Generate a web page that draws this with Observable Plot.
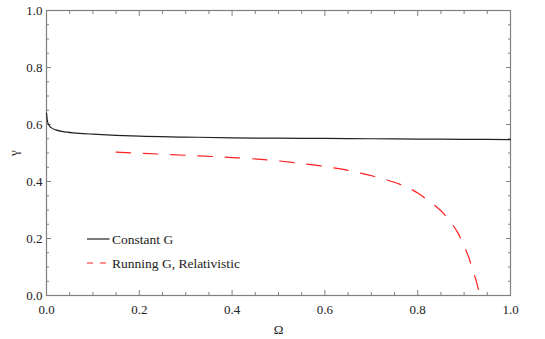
<!DOCTYPE html>
<html>
<head>
<meta charset="utf-8">
<script src="https://cdn.jsdelivr.net/npm/d3@7"></script>
<script src="https://cdn.jsdelivr.net/npm/@observablehq/plot@0.6"></script>
<style>
  html, body { margin: 0; padding: 0; background: #fff; }
  #wrap { position: relative; width: 545px; height: 339px; }
  #legend { position: absolute; left: 0; top: 0; pointer-events: none; }
</style>
</head>
<body>
<div id="wrap"></div>
<script>
// Constant G curve
const constOmega = [0, 0.002, 0.005, 0.01, 0.02, 0.04, 0.07, 0.1, 0.15, 0.2, 0.3, 0.4, 0.5, 0.6, 0.7, 0.8, 0.9, 1.0];
const constGamma = [0.64, 0.612, 0.598, 0.589, 0.581, 0.574, 0.569, 0.566, 0.562, 0.559, 0.556, 0.553, 0.552, 0.551, 0.550, 0.549, 0.548, 0.547];

// Running G, Relativistic curve
const runOmega = [0.15, 0.3, 0.4, 0.483, 0.55, 0.63, 0.691, 0.72, 0.746, 0.775, 0.801, 0.826, 0.849, 0.869, 0.885, 0.899, 0.91, 0.919, 0.928, 0.934];
const runGamma = [0.503, 0.492, 0.484, 0.475, 0.463, 0.445, 0.424, 0.412, 0.399, 0.381, 0.359, 0.329, 0.299, 0.262, 0.224, 0.178, 0.134, 0.088, 0.040, 0];

const seriesNames = ["Constant G", "Running G, Relativistic"];

// ticks
const xMajor = [0, 0.2, 0.4, 0.6, 0.8, 1.0];
const yMajor = [0, 0.2, 0.4, 0.6, 0.8, 1.0];
const minorTicks = [0.05, 0.1, 0.15, 0.25, 0.3, 0.35, 0.45, 0.5, 0.55, 0.65, 0.7, 0.75, 0.85, 0.9, 0.95];

const constData = constOmega.map((x, i) => ({x, y: constGamma[i]}));
const runData = runOmega.map((x, i) => ({x, y: runGamma[i]}));

const fmt = d3.format(".1f");
const axisColor = "#808080";
const font = "Liberation Serif";

const plot = Plot.plot({
  width: 545,
  height: 339,
  marginLeft: 46,
  marginRight: 35,
  marginTop: 10,
  marginBottom: 44,
  style: { fontFamily: font, fontSize: "13px", color: "#222", background: "#fff" },
  x: { domain: [0, 1] },
  y: { domain: [0, 1] },
  marks: [
    Plot.axisX({ anchor: "bottom", ticks: xMajor, tickSize: 0, tickPadding: 9, tickFormat: fmt,
      label: "Ω", labelAnchor: "center", labelOffset: 38, labelArrow: false, fill: "#222" }),
    Plot.axisY({ anchor: "left", ticks: yMajor, tickSize: 0, tickPadding: 4, tickFormat: fmt,
      label: "γ", labelAnchor: "center", labelOffset: 38, labelArrow: false, fill: "#222" }),
    Plot.axisX({ anchor: "bottom", ticks: xMajor, tickSize: -5, text: null, label: null, stroke: axisColor }),
    Plot.axisX({ anchor: "bottom", ticks: minorTicks, tickSize: -3, text: null, label: null, stroke: axisColor }),
    Plot.axisX({ anchor: "top", ticks: xMajor, tickSize: -5, text: null, label: null, stroke: axisColor }),
    Plot.axisX({ anchor: "top", ticks: minorTicks, tickSize: -3, text: null, label: null, stroke: axisColor }),
    Plot.axisY({ anchor: "left", ticks: yMajor, tickSize: -5, text: null, label: null, stroke: axisColor }),
    Plot.axisY({ anchor: "left", ticks: minorTicks, tickSize: -3, text: null, label: null, stroke: axisColor }),
    Plot.axisY({ anchor: "right", ticks: yMajor, tickSize: -5, text: null, label: null, stroke: axisColor }),
    Plot.axisY({ anchor: "right", ticks: minorTicks, tickSize: -3, text: null, label: null, stroke: axisColor }),
    Plot.frame({ stroke: axisColor, strokeWidth: 1.2 }),
    Plot.line(constData, { x: "x", y: "y", stroke: "#222", strokeWidth: 1.2, curve: "monotone-x" }),
    Plot.line(runData, { x: "x", y: "y", stroke: "#ff2020", strokeWidth: 1.2, strokeDasharray: "14.5,12.8", curve: "monotone-x" })
  ]
});

// make sure every text uses the serif face
plot.setAttribute("font-family", font);
plot.querySelectorAll("text").forEach(t => t.setAttribute("font-family", font));

const wrap = document.getElementById("wrap");
wrap.appendChild(plot);

// legend overlay
const ns = "http://www.w3.org/2000/svg";
const leg = document.createElementNS(ns, "svg");
leg.setAttribute("id", "legend");
leg.setAttribute("width", 545);
leg.setAttribute("height", 339);
const items = [
  { name: seriesNames[0], stroke: "#222", dash: null, y: 239 },
  { name: seriesNames[1], stroke: "#ff2020", dash: "6,7", y: 263 }
];
for (const it of items) {
  const l = document.createElementNS(ns, "line");
  l.setAttribute("x1", 87); l.setAttribute("x2", 109.5);
  l.setAttribute("y1", it.y); l.setAttribute("y2", it.y);
  l.setAttribute("stroke", it.stroke); l.setAttribute("stroke-width", 1.2);
  if (it.dash) l.setAttribute("stroke-dasharray", it.dash);
  leg.appendChild(l);
  const t = document.createElementNS(ns, "text");
  t.setAttribute("x", 112); t.setAttribute("y", it.y);
  t.setAttribute("dy", "0.35em");
  t.setAttribute("font-family", font);
  t.setAttribute("font-size", "13.5px");
  t.setAttribute("fill", "#222");
  t.textContent = it.name;
  leg.appendChild(t);
}
wrap.appendChild(leg);
</script>
</body>
</html>
